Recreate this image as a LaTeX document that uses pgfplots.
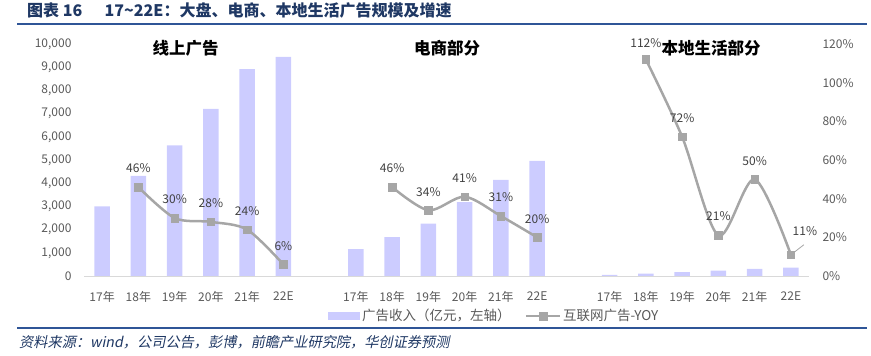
\documentclass[border=0pt]{standalone}
\usepackage{fontspec}
\usepackage{pgfplots}
\pgfplotsset{compat=1.18}
\setmainfont{Noto Sans CJK SC}
\newfontfamily\srcfont[FakeSlant=0.2]{Noto Sans CJK SC}
\definecolor{barc}{HTML}{CCCCFF}
\definecolor{linec}{HTML}{A6A6A6}
\definecolor{tickc}{HTML}{595959}
\definecolor{labc}{HTML}{404040}
\definecolor{navy}{HTML}{1F3864}
\definecolor{rulec}{HTML}{2F5597}
\pgfplotstableread{
x y
0 3000
1 4320
2 5630
3 7200
4 8920
5 9450
7 1160
8 1680
9 2260
10 3180
11 4140
12 4960
14 50
15 100
16 170
17 230
18 310
19 360
}\bars
\pgfplotstableread{
x y dx dy
1 46 0 18.5
2 30 0 18.5
3 28 0 18.5
4 24 0 18.5
5 6 0 18.5
}\lineA
\pgfplotstableread{
x y dx dy
8 46 0 18.5
9 34 0 18.5
10 41 0 18.5
11 31 0 18.5
12 20 0 18.5
}\lineB
\pgfplotstableread{
x y dx dy
15 112 0 16.6
16 72 0 18.4
17 21 0 19
18 50 0 18.3
19 11 14 23.3
}\lineC
\begin{document}
\begin{tikzpicture}[x=1pt,y=1pt]
\path[use as bounding box] (0,0) rectangle (871,356);
\draw[rulec, line width=2pt] (17,332) -- (867,332);
\draw[rulec, line width=2pt] (17,28) -- (867,28);
\node[anchor=west, font=\fontsize{16}{16}\selectfont\bfseries, text=navy, inner sep=0pt] at (27,346) {图表 16\hspace{1.4em}17\textasciitilde 22E：大盘、电商、本地生活广告规模及增速};
\node[anchor=west, font=\srcfont\fontsize{14.2}{14.2}\selectfont, text=navy, inner sep=0pt] at (19,14) {资料来源：wind，公司公告，彭博，前瞻产业研究院，华创证券预测};
\pgfplotsset{
  mylines/.style={linec, line width=2.5pt, smooth, tension=0.5,
    mark=square*, mark size=3.8pt, mark options={fill=linec, draw=linec, line width=0.4pt},
    point meta=y,
    nodes near coords={\pgfmathprintnumber{\pgfplotspointmeta}\%},
    visualization depends on={\thisrow{dx} \as \ldx},
    visualization depends on={\thisrow{dy} \as \ldy},
    every node near coord/.append style={anchor=center, xshift=\ldx pt, yshift=\ldy pt,
      font=\fontsize{12}{12}\selectfont, text=labc, inner sep=0pt}},
}
\begin{axis}[at={(84pt,80pt)}, anchor=south west, scale only axis,
  width=725pt, height=232pt,
  xmin=-0.5, xmax=19.5, ymin=0, ymax=10000,
  xtick={0,1,2,3,4,5,7,8,9,10,11,12,14,15,16,17,18,19},
  xticklabels={17年,18年,19年,20年,21年,22E,17年,18年,19年,20年,21年,22E,17年,18年,19年,20年,21年,22E},
  ytick={0,1000,...,10000},
  scaled y ticks=false,
  axis x line*=bottom, axis y line*=left,
  x axis line style={draw=black!15, line width=0.8pt, -},
  y axis line style={draw=none},
  major tick length=0pt,
  tick label style={font=\fontsize{12}{12}\selectfont, text=tickc},
  yticklabel style={xshift=-9pt},
  xticklabel style={yshift=-12pt},
  /pgf/number format/1000 sep={,},
  /pgf/number format/assume math mode=true,
  clip=false,
  legend style={at={(axis description cs:0.3366,-0.172)}, anchor=west, draw=none, fill=none,
    legend columns=2, font=\fontsize{13.5}{13.5}\selectfont, text=tickc, inner xsep=0pt,
    /tikz/every even column/.append style={column sep=12pt}},
]
\addplot[ybar, bar width=15.3pt, fill=barc, draw=none,
  legend image code/.code={\fill[barc] (0pt,-4pt) rectangle (32pt,4pt);}] table[x=x,y=y] {\bars};
\addlegendentry{广告收入（亿元，左轴）}
\addlegendimage{legend image code/.code={\draw[linec, line width=2.5pt] (0pt,0pt) -- (34pt,0pt); \fill[linec] (13pt,-3.8pt) rectangle (21pt,3.8pt);}}
\addlegendentry{互联网广告-YOY}
\end{axis}
\begin{axis}[at={(84pt,80pt)}, anchor=south west, scale only axis,
  width=725pt, height=232pt,
  xmin=-0.5, xmax=19.5, ymin=0, ymax=120,
  ytick={0,20,...,120},
  yticklabel={\pgfmathprintnumber{\tick}\%},
  axis x line=none, axis y line*=right,
  y axis line style={draw=none},
  major tick length=0pt,
  tick label style={font=\fontsize{12}{12}\selectfont, text=tickc},
  yticklabel style={xshift=10pt},
  /pgf/number format/assume math mode=true,
  clip=false,
]
\addplot[mylines] table[x=x,y=y] {\lineA};
\addplot[mylines] table[x=x,y=y] {\lineB};
\addplot[mylines] table[x=x,y=y] {\lineC};
\draw[linec, line width=0.8pt] (axis cs:19,11) ++(4pt,3pt) -- ++(9pt,7pt);
\end{axis}
\node[font=\fontsize{16.5}{16.5}\selectfont\bfseries] at (185.5,307.7) {线上广告};
\node[font=\fontsize{16.5}{16.5}\selectfont\bfseries] at (447,307.7) {电商部分};
\node[font=\fontsize{16.5}{16.5}\selectfont\bfseries] at (711,307.7) {本地生活部分};
\end{tikzpicture}
\end{document}
